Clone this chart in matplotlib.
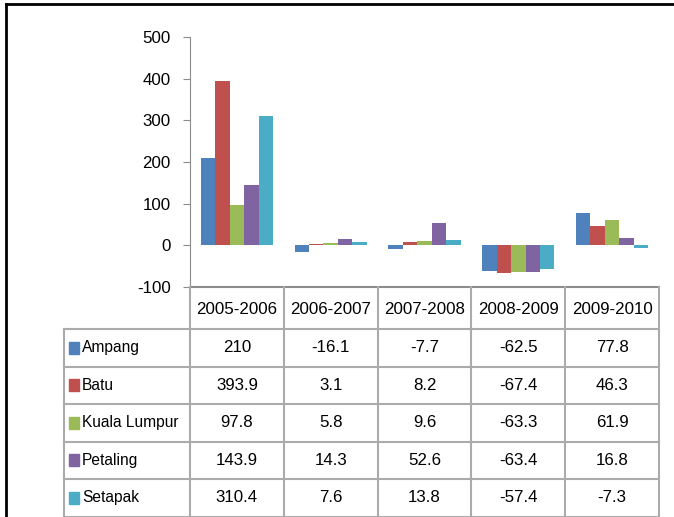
import matplotlib.pyplot as plt
import numpy as np
from matplotlib.lines import Line2D
from matplotlib.patches import Rectangle

plt.rcParams['font.family'] = ['Liberation Sans', 'DejaVu Sans']

periods = ['2005-2006', '2006-2007', '2007-2008', '2008-2009', '2009-2010']
areas = ['Ampang', 'Batu', 'Kuala Lumpur', 'Petaling', 'Setapak']
ampang = [210, -16.1, -7.7, -62.5, 77.8]
batu = [393.9, 3.1, 8.2, -67.4, 46.3]
kuala_lumpur = [97.8, 5.8, 9.6, -63.3, 61.9]
petaling = [143.9, 14.3, 52.6, -63.4, 16.8]
setapak = [310.4, 7.6, 13.8, -57.4, -7.3]
yticks = [-100, 0, 100, 200, 300, 400, 500]

series = [ampang, batu, kuala_lumpur, petaling, setapak]
colors = ['#4F81BD', '#C0504D', '#9BBB59', '#8064A2', '#4BACC6']

W, H = 674, 517
fig = plt.figure(figsize=(W / 100, H / 100), dpi=100)
fs = 12.2

def fx(px):
    return px / W

def fy(py):
    return 1 - py / H

# plot area in pixel coords
left, right, top, bottom = 190, 659, 37, 287
ax = fig.add_axes([fx(left), fy(bottom), fx(right - left), (bottom - top) / H])

x = np.arange(len(periods))
w = 1 / 6.5
for i, vals in enumerate(series):
    ax.bar(x + (i - 2) * w, vals, width=w, color=colors[i], label=areas[i])

ax.set_xlim(-0.5, len(periods) - 0.5)
ax.set_ylim(-100, 500)
ax.set_yticks(yticks)
ax.set_yticklabels([str(t) for t in yticks], fontsize=fs)
ax.set_xticks([])
for s in ['top', 'right']:
    ax.spines[s].set_visible(False)
ax.spines['left'].set_color('#8c8c8c')
ax.spines['bottom'].set_color('#8c8c8c')
ax.spines['bottom'].set_linewidth(1.5)
ax.tick_params(axis='y', length=5, color='#8c8c8c', pad=9)

# data table below the plot
line_c = '#ababab'
col_edges = [left + (right - left) * k / len(periods) for k in range(len(periods) + 1)]
row_edges = [bottom, 329, 366.5, 404, 441.5, 479, 516.5]
tab_left = 64

def hline(y, x0, x1, c=line_c, lw=1.5):
    fig.add_artist(Line2D([fx(x0), fx(x1)], [fy(y), fy(y)], color=c, lw=lw))

def vline(xp, y0, y1, c=line_c, lw=1.5):
    fig.add_artist(Line2D([fx(xp), fx(xp)], [fy(y0), fy(y1)], color=c, lw=lw))

for y in row_edges[1:]:
    hline(y, tab_left, right)
for xp in col_edges:
    vline(xp, bottom, row_edges[-1])
vline(tab_left, row_edges[1], row_edges[-1])

for k, p in enumerate(periods):
    cx = (col_edges[k] + col_edges[k + 1]) / 2
    cy = (row_edges[0] + row_edges[1]) / 2 + 1
    fig.text(fx(cx), fy(cy), p, ha='center', va='center', fontsize=fs)

for r, name in enumerate(areas):
    cy = (row_edges[r + 1] + row_edges[r + 2]) / 2
    fig.add_artist(Rectangle((fx(69), fy(cy + 6)), fx(10), 12 / H,
                             color=colors[r], transform=fig.transFigure))
    fig.text(fx(82), fy(cy), name, ha='left', va='center', fontsize=11.2)
    for k, v in enumerate(series[r]):
        cx = (col_edges[k] + col_edges[k + 1]) / 2
        fig.text(fx(cx), fy(cy), f"{v:g}", ha='center', va='center', fontsize=fs)

# outer frame
hline(4, 6, W, c='black', lw=2)
vline(6, 4, H, c='black', lw=2)

fig.savefig('out.png', dpi=100)
